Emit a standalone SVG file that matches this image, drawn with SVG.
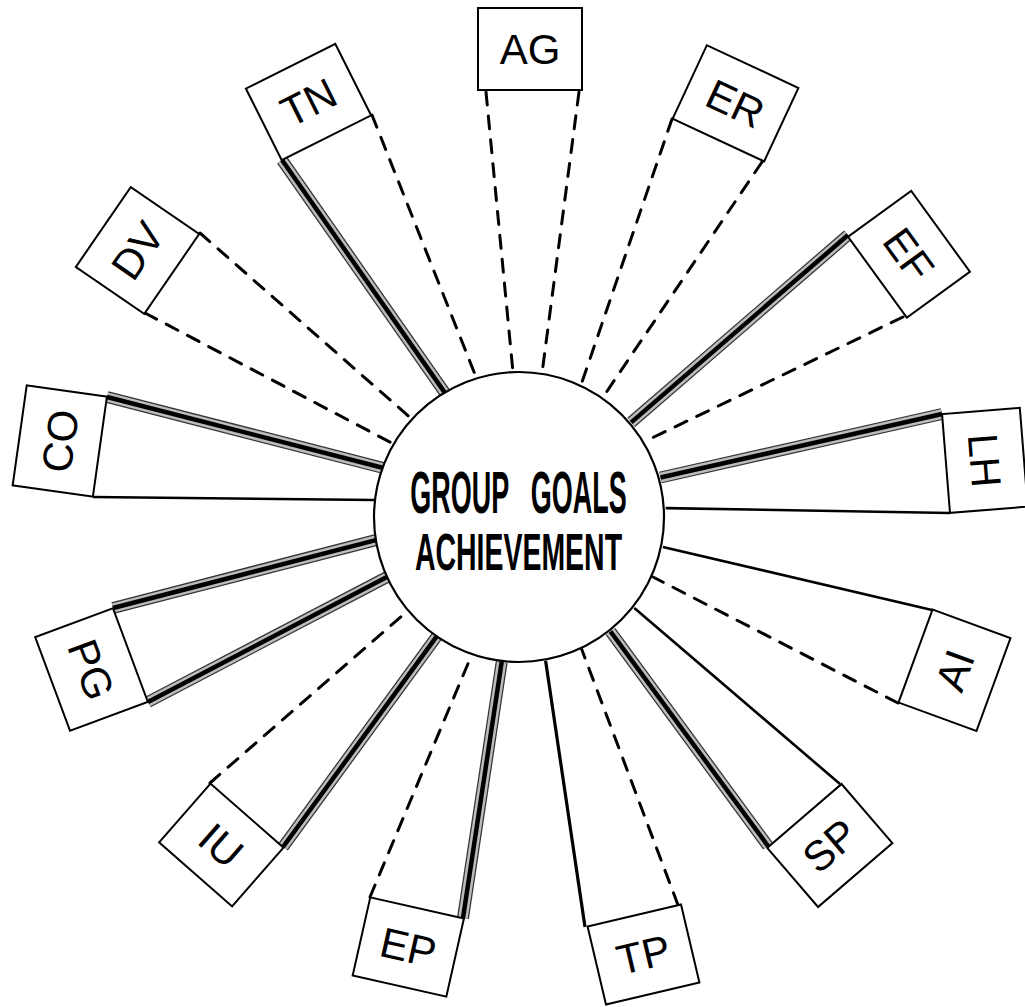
<svg xmlns="http://www.w3.org/2000/svg" xmlns:xlink="http://www.w3.org/1999/xlink" width="1025" height="1007" viewBox="0 0 1025 1007">
<style>
  .bg { fill: #ffffff; }
  .box { fill: #ffffff; stroke: #000; stroke-width: 2; }
  .lbl { font-family: "Liberation Sans", Arial, sans-serif; font-size: 42px; fill: #000; text-anchor: middle; }
  .ctr { font-family: "Liberation Sans", Arial, sans-serif; font-weight: bold; fill: #000; text-anchor: middle; }
  .dash { fill: none; stroke: #000; stroke-width: 3; stroke-dasharray: 13 11; stroke-linecap: round; }
  .thin { fill: none; stroke: #000; stroke-width: 2.6; }
  .tk1 { fill: none; stroke: #333; stroke-width: 12; }
  .tk2 { fill: none; stroke: #bcbcbc; stroke-width: 9.5; }
  .tk3 { fill: none; stroke: #000; stroke-width: 4.5; }
  .hub { fill: #ffffff; stroke: #000; stroke-width: 2.2; }
</style>
<defs>
  <path id="t-tn" d="M282,160 L444.4,392.1"/>
  <path id="t-ef" d="M848,235 L631.2,422.4"/>
  <path id="t-lh" d="M942,414 L660.5,477.5"/>
  <path id="t-sp" d="M768,846 L610.5,631.5"/>
  <path id="t-ep" d="M463,918 L501.7,661.8"/>
  <path id="t-iu" d="M283,847 L436.5,636.7"/>
  <path id="t-pg1" d="M113,608 L375.8,540.1"/>
  <path id="t-pg2" d="M148,702 L386.9,577.1"/>
  <path id="t-co" d="M107,397 L382.5,467.8"/>
</defs>
<rect class="bg" x="0" y="0" width="1025" height="1007"/>

<g id="connectors">
  <!-- dashed -->
  <line class="dash" x1="372" y1="115" x2="476.3" y2="377.7"/>
  <line class="dash" x1="486" y1="92" x2="512.9" y2="371.2"/>
  <line class="dash" x1="579" y1="92" x2="542.1" y2="372.7"/>
  <line class="dash" x1="672" y1="119" x2="581.2" y2="384.5"/>
  <line class="dash" x1="762" y1="162" x2="603.1" y2="397"/>
  <line class="dash" x1="903" y1="317" x2="644.9" y2="441.4"/>
  <line class="dash" x1="898" y1="703" x2="653" y2="577"/>
  <line class="dash" x1="678" y1="905" x2="581.7" y2="649.3"/>
  <line class="dash" x1="370" y1="897" x2="471.7" y2="654.8"/>
  <line class="dash" x1="210" y1="783" x2="408" y2="610.6"/>
  <line class="dash" x1="200" y1="233" x2="411.8" y2="419"/>
  <line class="dash" x1="145" y1="313" x2="393.6" y2="444"/>
  <!-- thin solid -->
  <line class="thin" x1="950" y1="513" x2="665.7" y2="508.1"/>
  <line class="thin" x1="932" y1="610" x2="662.9" y2="546.9"/>
  <line class="thin" x1="840" y1="784" x2="634.3" y2="607.9"/>
  <line class="thin" x1="585" y1="927" x2="545.6" y2="660.8" style="stroke-width:3.2"/>
  <line class="thin" x1="93" y1="497" x2="375" y2="500"/>
  <!-- thick composite -->
  <g>
    <use xlink:href="#t-tn" class="tk1"/><use xlink:href="#t-tn" class="tk2"/><use xlink:href="#t-tn" class="tk3"/>
    <use xlink:href="#t-ef" class="tk1"/><use xlink:href="#t-ef" class="tk2"/><use xlink:href="#t-ef" class="tk3"/>
    <use xlink:href="#t-lh" class="tk1"/><use xlink:href="#t-lh" class="tk2"/><use xlink:href="#t-lh" class="tk3"/>
    <use xlink:href="#t-sp" class="tk1"/><use xlink:href="#t-sp" class="tk2"/><use xlink:href="#t-sp" class="tk3"/>
    <use xlink:href="#t-ep" class="tk1"/><use xlink:href="#t-ep" class="tk2"/><use xlink:href="#t-ep" class="tk3"/>
    <use xlink:href="#t-iu" class="tk1"/><use xlink:href="#t-iu" class="tk2"/><use xlink:href="#t-iu" class="tk3"/>
    <use xlink:href="#t-pg1" class="tk1"/><use xlink:href="#t-pg1" class="tk2"/><use xlink:href="#t-pg1" class="tk3"/>
    <use xlink:href="#t-pg2" class="tk1"/><use xlink:href="#t-pg2" class="tk2"/><use xlink:href="#t-pg2" class="tk3"/>
    <use xlink:href="#t-co" class="tk1"/><use xlink:href="#t-co" class="tk2"/><use xlink:href="#t-co" class="tk3"/>
  </g>
</g>

<g id="node-center">
  <circle class="hub" cx="519" cy="517" r="145"/>
  <text class="ctr" transform="translate(518.5,513) scale(0.45,1)" font-size="60" word-spacing="32">GROUP GOALS</text>
  <text class="ctr" transform="translate(518.5,570) scale(0.547,1)" font-size="52">ACHIEVEMENT</text>
</g>

<g id="node-tn" transform="translate(308.5,102) rotate(-26.6)">
  <rect class="box" x="-50" y="-40" width="100" height="80"/>
  <text class="lbl" x="0" y="15">TN</text>
</g>
<g id="node-ag" transform="translate(530,49)">
  <rect class="box" x="-52" y="-41" width="104" height="82"/>
  <text class="lbl" x="0" y="15">AG</text>
</g>
<g id="node-er" transform="translate(735.5,103.3) rotate(25)">
  <rect class="box" x="-50.5" y="-40.5" width="101" height="81"/>
  <text class="lbl" x="0" y="15">ER</text>
</g>
<g id="node-ef" transform="translate(909,254.3) rotate(54)">
  <rect class="box" x="-50" y="-39" width="100" height="78"/>
  <text class="lbl" x="0" y="15">EF</text>
</g>
<g id="node-lh" transform="translate(984.9,460.4) rotate(85.4)">
  <rect class="box" x="-49.5" y="-39" width="99" height="78"/>
  <text class="lbl" x="0" y="15">LH</text>
</g>
<g id="node-ai" transform="translate(954.5,670.3) rotate(-69.9)">
  <rect class="box" x="-49.5" y="-41.5" width="99" height="83"/>
  <text class="lbl" x="0" y="15">AI</text>
</g>
<g id="node-sp" transform="translate(829.8,845.5) rotate(-40.7)">
  <rect class="box" x="-49" y="-39" width="98" height="78"/>
  <text class="lbl" x="0" y="15">SP</text>
</g>
<g id="node-tp" transform="translate(643.5,954.5) rotate(-13.3)">
  <rect class="box" x="-48" y="-40" width="96" height="80"/>
  <text class="lbl" x="0" y="15">TP</text>
</g>
<g id="node-ep" transform="translate(408.3,947) rotate(12.7)">
  <rect class="box" x="-48" y="-40" width="96" height="80"/>
  <text class="lbl" x="0" y="15">EP</text>
</g>
<g id="node-iu" transform="translate(221.3,845) rotate(41.2)">
  <rect class="box" x="-48.5" y="-39" width="97" height="78"/>
  <text class="lbl" x="0" y="15">IU</text>
</g>
<g id="node-pg" transform="translate(91.5,669.5) rotate(69.6)">
  <rect class="box" x="-50" y="-41.5" width="100" height="83"/>
  <text class="lbl" x="0" y="15">PG</text>
</g>
<g id="node-co" transform="translate(59.8,441) rotate(-82)">
  <rect class="box" x="-50.5" y="-40.5" width="101" height="81"/>
  <text class="lbl" x="0" y="15">CO</text>
</g>
<g id="node-dv" transform="translate(137.5,250.5) rotate(-55.5)">
  <rect class="box" x="-48.5" y="-41.5" width="97" height="83"/>
  <text class="lbl" x="0" y="15">DV</text>
</g>
</svg>
